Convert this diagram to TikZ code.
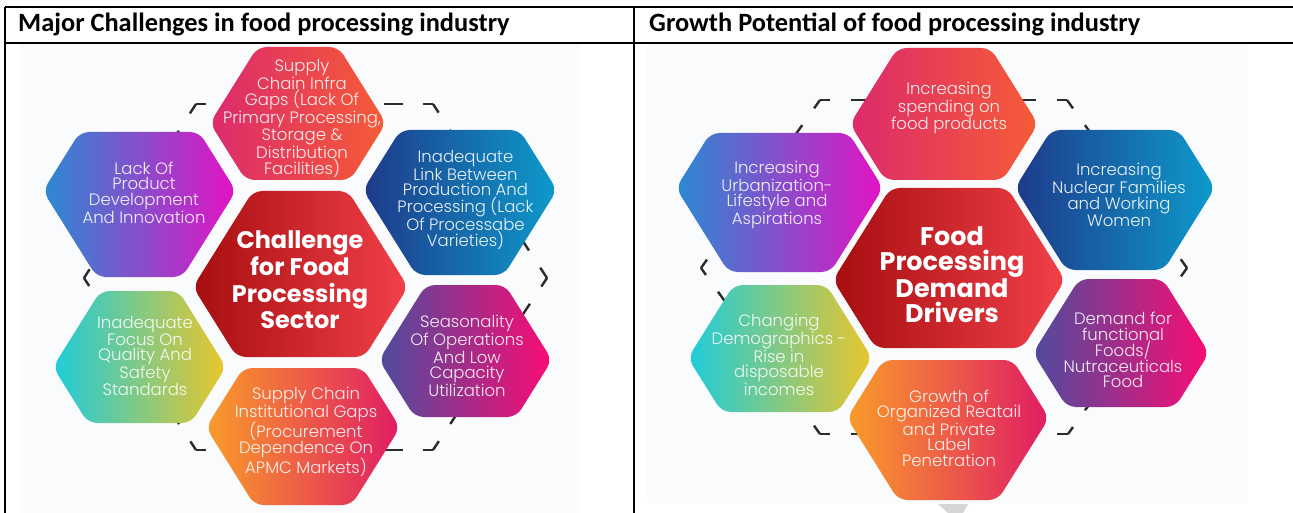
\documentclass[tikz,border=0pt]{standalone}
\usepackage{fontspec}
\setmainfont{Poppins}
\newfontfamily\headfont{Carlito}
\newfontfamily\hexfont{Poppins}
\newfontfamily\hexlight{Poppins Light}
\definecolor{imgbg}{HTML}{FAFBFD}
\definecolor{dashc}{HTML}{2B2B2B}
\definecolor{topL}{HTML}{DC2A6C}\definecolor{topR}{HTML}{F65C36}
\definecolor{ulL}{HTML}{2A8AD2}\definecolor{ulR}{HTML}{E412C4}
\definecolor{urL}{HTML}{1E3A8A}\definecolor{urR}{HTML}{0E9ACB}
\definecolor{ctL}{HTML}{A60E10}\definecolor{ctR}{HTML}{F2404A}
\definecolor{llL}{HTML}{1ECCDC}\definecolor{llR}{HTML}{EAC62A}
\definecolor{lrL}{HTML}{4E4C9E}\definecolor{lrR}{HTML}{FA0C72}
\definecolor{btL}{HTML}{F99C2A}\definecolor{btR}{HTML}{E01C64}
\newcommand\hexfill[7]{%
  \pgfmathsetmacro\hxa{#3-(#4+(#5))/1.6}%
  \pgfmathsetmacro\hxb{#3-(#4-(#5))/1.6}%
  \pgfmathsetmacro\hxl{#1-#3}%
  \pgfmathsetmacro\hxr{#1+#3}%
  \pgfmathsetmacro\hxs{#2+(#5)}%
  \pgfmathsetmacro\hxt{#2-#4}%
  \pgfmathsetmacro\hxu{#2+#4}%
  \pgfmathsetmacro\hxal{#1-\hxa}%
  \pgfmathsetmacro\hxar{#1+\hxa}%
  \pgfmathsetmacro\hxbl{#1-\hxb}%
  \pgfmathsetmacro\hxbr{#1+\hxb}%
  \shade[left color=#6,right color=#7,rounded corners=9pt]
   (\hxl,\hxs) -- (\hxal,\hxt) -- (\hxar,\hxt) -- (\hxr,\hxs)
   -- (\hxbr,\hxu) -- (\hxbl,\hxu) -- cycle;}
\tikzset{
  tline/.style={draw=black,line width=1.6pt},
  dashhex/.style={draw=dashc,line width=2.4pt,line cap=butt},
  dtop/.style={dashhex,dash pattern=on 19.75pt off 19.75pt,dash phase=9.9pt},
  dslant/.style={dashhex,dash pattern=on 20.6pt off 20.6pt,dash phase=10.3pt},
  hextxt/.style={align=center,inner sep=0pt,text=white,text opacity=0.9,
    font=\hexlight\fontsize{16.5}{15.5}\selectfont},
  ctrtxt/.style={align=center,inner sep=0pt,text=white,
    font=\hexfont\bfseries\fontsize{24}{26.7}\selectfont},
  ctrtxtr/.style={ctrtxt,font=\hexfont\bfseries\fontsize{25.5}{25}\selectfont},
  headtxt/.style={anchor=base west,inner sep=0pt,
    font=\headfont\bfseries\fontsize{26.4}{28}\selectfont}
}
\begin{document}
\begin{tikzpicture}[x=1pt,y=-1pt]
\useasboundingbox (0,0) rectangle (1293,513);
\fill[white] (0,0) rectangle (1293,513);
% image backgrounds
\fill[imgbg] (20,44) rectangle (580,513);
\fill[imgbg] (647,44) rectangle (1248,503);
% table
\draw[tline,line width=2pt] (5,7) -- (1293,7);
\draw[tline,line width=1.4pt] (5,43) -- (1293,43);
\draw[tline] (5,7) -- (5,513);
\draw[tline] (634,7) -- (634,513);
\node[headtxt] (h1) at (18,32) {Major Challenges in food processing industry};
\node[headtxt] (h2) at (649,32) {Growth Potential of food processing industry};
% ---------- left dashed hexagon
\coordinate (lL) at (84,278);  \coordinate (lTL) at (196,104);
\coordinate (lTR) at (433,104); \coordinate (lR) at (547,278);
\coordinate (lBR) at (433,450); \coordinate (lBL) at (196,450);
\draw[dtop] (lTL) -- (lTR);
\draw[dtop] (lBL) -- (lBR);
\draw[dslant] (lL) -- (lTL);
\draw[dslant] (lTR) -- (lR);
\draw[dslant] (lR) -- (lBR);
\draw[dslant] (lBL) -- (lL);
% ---------- right dashed hexagon
\coordinate (rL) at (701,268);  \coordinate (rTL) at (820,100);
\coordinate (rTR) at (1067,100); \coordinate (rR) at (1187,268);
\coordinate (rBR) at (1068,434); \coordinate (rBL) at (820,434);
\draw[dashhex,dash pattern=on 20.6pt off 20.6pt,dash phase=10.3pt] (rTL) -- (rTR);
\draw[dashhex,dash pattern=on 20.6pt off 20.6pt,dash phase=10.3pt] (rBL) -- (rBR);
\draw[dslant] (rL) -- (rTL);
\draw[dslant] (rTR) -- (rR);
\draw[dslant] (rR) -- (rBR);
\draw[dslant] (rBL) -- (rL);
% ---------- left hexagons
\hexfill{298}{113.5}{88}{66.5}{9.5}{topL}{topR}
\hexfill{139.5}{204.5}{96.5}{72.5}{-13.5}{ulL}{ulR}
\hexfill{460}{202.5}{97}{72.5}{-12.5}{urL}{urR}
\hexfill{300.5}{274}{107.5}{83}{13}{ctL}{ctR}
\hexfill{139.5}{357}{86.5}{66}{10}{llL}{llR}
\hexfill{465.5}{351}{86.5}{66}{9}{lrL}{lrR}
\hexfill{303}{436.5}{97}{68.5}{-9}{btL}{btR}
\node[hextxt] (la) at (302,118.5) {Supply\\Chain Infra\\Gaps (Lack Of\\Primary Processing,\\Storage \&\\Distribution\\Facilities)};
\node[hextxt] (lb) at (144,192.5) {Lack Of\\Product\\Development\\And Innovation};
\node[hextxt] (lc) at (465.5,200) {Inadequate\\Link Between\\Production And\\Processing (Lack\\Of Processabe\\Varieties)};
\node[ctrtxt] (ld) at (300,280) {Challenge\\for Food\\Processing\\Sector};
\node[hextxt] (le) at (145,356) {Inadequate\\Focus On\\Quality And\\Safety\\Standards};
\node[hextxt] (lf) at (467,356) {Seasonality\\Of Operations\\And Low\\Capacity\\Utilization};
\node[hextxt] (lg) at (306,432) {Supply Chain\\Institutional Gaps\\(Procurement\\Dependence On\\APMC Markets)};
% ---------- right hexagons
\hexfill{944}{114}{94}{66}{10}{topL}{topR}
\hexfill{779.5}{202.5}{103.5}{69.5}{-14.5}{ulL}{ulR}
\hexfill{1115}{200}{100}{70}{-12}{urL}{urR}
\hexfill{949}{268}{116}{80}{12}{ctL}{ctR}
\hexfill{780}{348.5}{92}{63.5}{9.5}{llL}{llR}
\hexfill{1121}{343}{88}{64}{10}{lrL}{lrR}
\hexfill{948}{430}{101}{70}{-12}{btL}{btR}
\node[hextxt] (ra) at (949,108) {Increasing\\spending on\\food products};
\node[hextxt] (rb) at (777,195) {Increasing\\Urbanization-\\Lifestyle and\\Aspirations};
\node[hextxt] (rc) at (1119,195) {Increasing\\Nuclear Families\\and Working\\Women};
\node[ctrtxtr] (rd) at (952,275) {Food\\Processing\\Demand\\Drivers};
\node[hextxt] (re) at (779,355) {Changing\\Demographics -\\Rise in\\disposable\\incomes};
\node[hextxt] (rf) at (1123,350) {Demand for\\functional\\Foods/\\Nutraceuticals\\Food};
\node[hextxt] (rg) at (949,428) {Growth of\\Organized Reatail\\and Private\\Label\\Penetration};
% watermark fragment
\fill[black!16] (938,504) -- (968,504) -- (963,513) -- (948,513) -- cycle;
\end{tikzpicture}
\end{document}
